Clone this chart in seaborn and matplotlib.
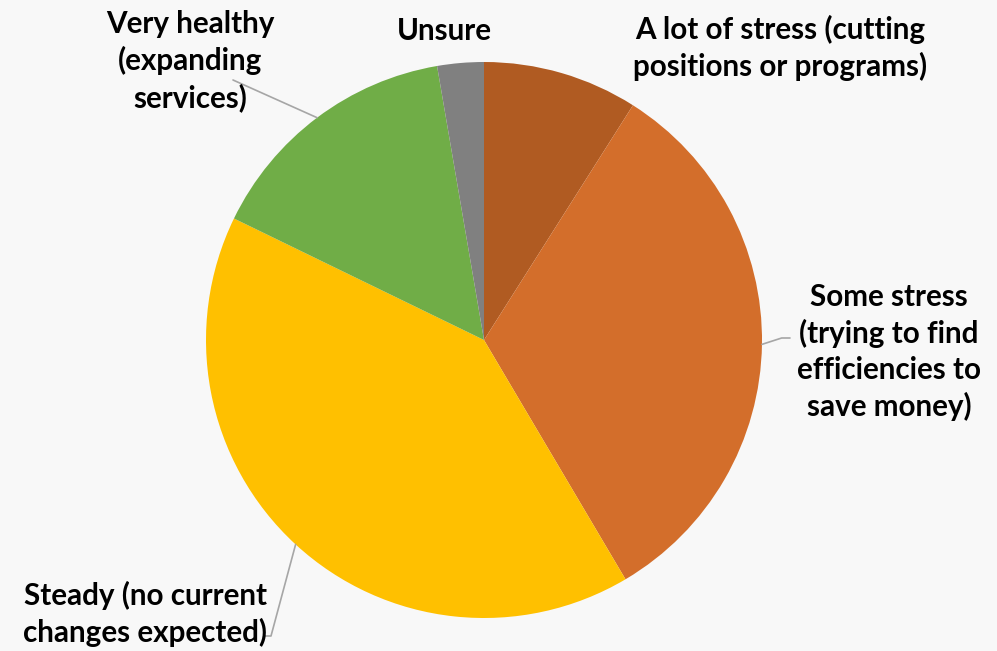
import numpy as np
import matplotlib
matplotlib.use("Agg")
import matplotlib.pyplot as plt
import seaborn as sns

sns.set_theme(style="white")
plt.rcParams['font.family'] = ['Lato', 'DejaVu Sans']

categories = [
    "A lot of stress (cutting\npositions or programs)",
    "Some stress\n(trying to find\nefficiencies to\nsave money)",
    "Steady (no current\nchanges expected)",
    "Very healthy\n(expanding\nservices)",
    "Unsure",
]
values = [9.0, 32.5, 40.7, 15.1, 2.7]
colors = ["#B05B22", "#D36E2B", "#FFC000", "#70AD47", "#808080"]

W, H = 997, 651
cx, cy, R = 484, 340, 278
fig = plt.figure(figsize=(W / 100, H / 100), dpi=100)
fig.patch.set_facecolor("#f8f8f8")
ax = fig.add_axes([0, 0, 1, 1])
ax.set_facecolor("#f8f8f8")

wedges, _ = ax.pie(values, colors=colors, startangle=90, counterclock=False,
                   radius=1, center=(0, 0), frame=True,
                   wedgeprops=dict(linewidth=0))
ax.set_xlim(-cx / R, (W - cx) / R)
ax.set_ylim(-(H - cy) / R, cy / R)
ax.axis("off")


def p2d(px, py):
    return ((px - cx) / R, (cy - py) / R)


# label layout: (pixel anchor of text, leader end pixel or None)
layout = [
    ((780, 48), None),
    ((889, 352), (790, 338)),
    ((145, 614), (271, 636)),
    ((190, 61), (233, 80)),
    ((444, 31), None),
]

for w, lab, (pos, lead) in zip(wedges, categories, layout):
    tx, ty = p2d(*pos)
    ax.text(tx, ty, lab, ha="center", va="center", fontsize=21.3,
            fontweight="bold", color="black", linespacing=1.33)
    if lead is not None:
        mid = np.deg2rad((w.theta1 + w.theta2) / 2)
        x0, y0 = np.cos(mid), np.sin(mid)
        lx, ly = p2d(*lead)
        if lab.startswith("Some"):
            ax.plot([x0, lx - 0.03, lx], [y0, ly, ly], color="#a6a6a6", lw=1.2)
        elif lab.startswith("Steady"):
            ax.plot([x0, lx, lx - 0.02], [y0, ly, ly], color="#a6a6a6", lw=1.2)
        else:
            ax.plot([x0, lx], [y0, ly], color="#a6a6a6", lw=1.2)

fig.savefig("out.png", dpi=100, facecolor=fig.get_facecolor())
